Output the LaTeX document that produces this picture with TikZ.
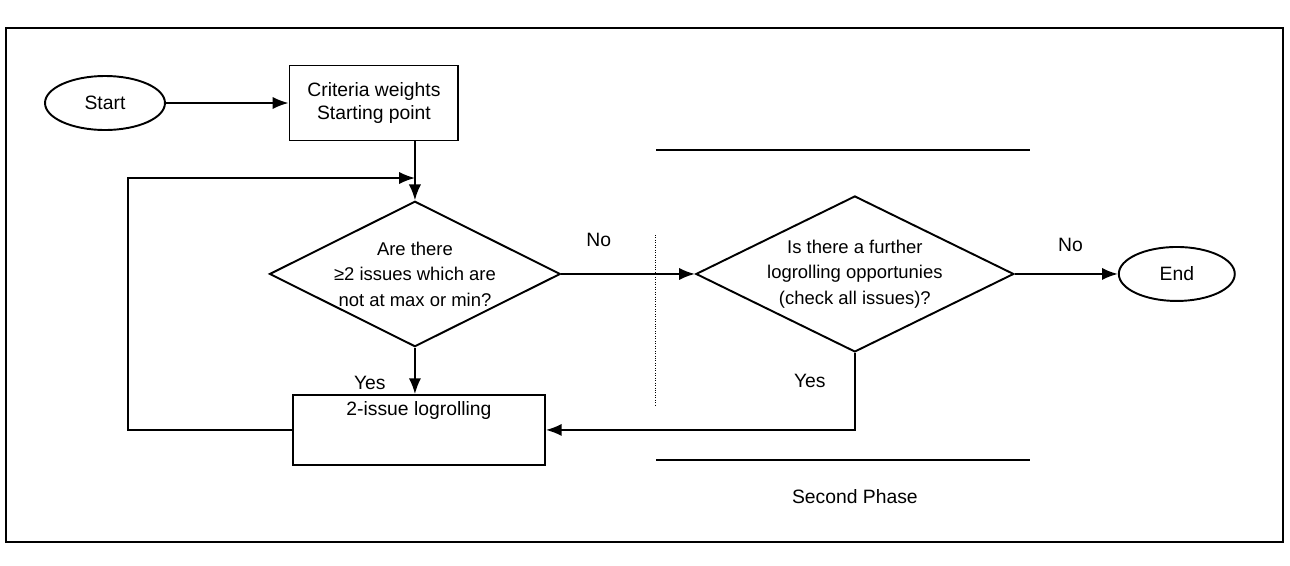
\documentclass[tikz,border=0pt]{standalone}
\usepackage{fontspec}
\setmainfont{Liberation Sans}
\usepackage{tikz}
\usetikzlibrary{arrows.meta,shapes.geometric}

\begin{document}
\begin{tikzpicture}[->, >={Latex[length=9pt,width=7pt]}, line width=1.1pt, font=\fontsize{11}{13}\selectfont, node distance=3cm, x=0.02cm, y=-0.02cm,
    term/.style={draw, ellipse, minimum width=2.4cm, minimum height=1.08cm, inner sep=0pt},
    stepbox/.style={draw, rectangle, inner sep=0pt, align=center},
    check/.style={draw, diamond, aspect=2, inner sep=0pt, align=center, font=\fontsize{10.5}{14.5}\selectfont}]
    \useasboundingbox (0,0) rectangle (1290,565);
    \draw[-] (6,28) rectangle (1283,542);
    \node (start) [term] at (105,103) {Start};
    \node (crit) [stepbox, right of=start, node distance=5.38cm, minimum width=3.38cm, minimum height=1.5cm] {Criteria weights\\Starting point};
    \node (dec1) [check, below of=crit, node distance=3.42cm, xshift=0.82cm, minimum width=5.68cm, minimum height=2.9cm] {Are there\\≥2 issues which are\\not at max or min?};
    \node (roll) [stepbox, below of=dec1, node distance=3.12cm, xshift=0.08cm, minimum width=5.04cm, text height=11.5pt, text depth=28.2pt] {2-issue logrolling};
    \node (dec2) [check, right of=dec1, node distance=8.8cm, minimum width=6.36cm, minimum height=3.12cm] {Is there a further\\logrolling opportunies\\(check all issues)?};
    \node (end) [term, right of=dec2, node distance=6.44cm, minimum width=2.32cm] {End};
    \node (phase) [below of=dec2, node distance=4.46cm] {Second Phase};
    \coordinate (join) at (415,178);
    \coordinate (back) at (128,178);
    % second phase frame
    \draw[-] (656,150) -- (1030,150);
    \draw[-] (656,460) -- (1030,460);
    \draw[-, thin, densely dotted] (655,235) -- (655,405);
    \path
    (start) edge node {} (crit)
    (dec1) edge node[pos=0.28, above=0.4cm] {No} (dec2)
    (dec2) edge node[pos=0.54, above=0.3cm] {No} (end)
    (dec1.south) edge node[pos=0.75, left=0.45cm] {Yes} (dec1.south |- roll.north)
    ;
    \draw (crit.south -| dec1.north) -- (dec1.north);
    \draw (dec2.south) |- node[pos=0.18, left=0.45cm] {Yes} (roll.east);
    \draw (roll.west) -| (back) -- (join);
\end{tikzpicture}
\end{document}
